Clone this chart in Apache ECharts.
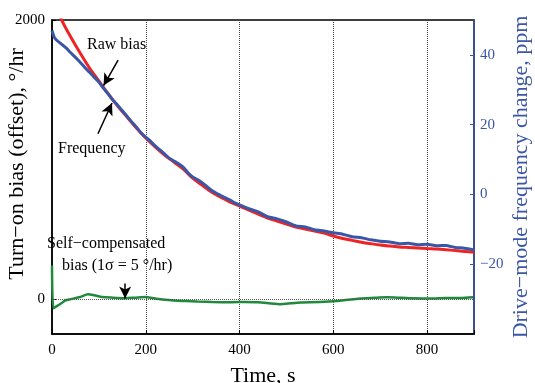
<!DOCTYPE html>
<html><head><meta charset="utf-8">
<script src="https://cdn.jsdelivr.net/npm/echarts@6/dist/echarts.min.js"></script>
<style>html,body{margin:0;padding:0;background:#fff}#c{width:535px;height:383px}</style>
</head><body><div id="c"></div>
<script>
const redTime = [0,10,20,40,60,80,100,120,140,160,180,200,220,240,260,280,300,320,340,360,380,400,420,440,460,480,500,520,540,560,580,600,620,640,660,680,700,720,740,760,780,800,820,840,860,880,900];
const rawBias = [2360,2110,2005,1878,1763,1656,1563,1470,1384,1305,1226,1154,1090,1032,982,932,867,817,767,731,695,667,638,609,581,559,538,516,502,487,473,452,434,421,408,397,387,380,374,370,366,362,359,354,348,342,336];

const blueTime = [0,5,10,20,30,40,50,60,70,80,90,100,110,120,130,140,150,160,170,180,190,200,210,220,230,240,250,260,270,280,290,300,310,320,330,340,350,360,370,380,390,400,420,440,460,480,500,520,540,560,580,600,620,640,660,680,700,720,740,760,780,800,820,840,860,880,900];
const frequency = [47.0,45.0,44.2,43.1,42.0,40.6,39.3,37.9,36.4,35.0,33.6,32.2,30.4,28.8,27.0,25.6,24.0,22.4,20.8,19.3,17.6,16.4,15.3,13.9,12.8,11.6,10.4,9.6,8.8,7.8,6.2,5.0,4.3,3.4,2.3,1.2,0.4,-0.3,-1.0,-1.6,-2.4,-3.0,-4.1,-5.0,-6.4,-7.0,-7.9,-9.0,-9.3,-10.1,-10.5,-11.0,-11.4,-12.1,-12.4,-13.0,-13.4,-13.6,-14.1,-14.0,-14.4,-14.3,-14.7,-14.6,-15.2,-15.4,-15.9];

const greenTime = [0,3,10,20,28,40,60,77,90,107,130,156,175,198,220,241,260,284,310,341,384,410,439,486,510,529,571,608,630,657,690,714,740,763,812,840,870,898];
const selfComp = [240,-65,-50,-30,-10,0,15,35,28,15,10,7,10,15,5,-5,-10,-14,-18,-21,-22,-20,-22,-36,-30,-24,-21,-14,-5,5,10,14,10,7,5,8,8,14];

const xTicks = [0,200,400,600,800];
const leftTicks = [0,2000];
const rightTicks = [-20,0,20,40];

const FONT = 'Liberation Serif';
const BLUE = '#3b56a6';
const zip = (a,b)=>a.map((v,i)=>[v,b[i]]);
const minus = v => v<0 ? '\u2212'+Math.abs(v) : String(v);

const chart = echarts.init(document.getElementById('c'));
chart.setOption({
  animation:false,
  grid:{left:52,right:61,top:20,bottom:49,containLabel:false,outerBoundsMode:'none',show:true,borderColor:'#000',borderWidth:1.5,backgroundColor:'transparent'},
  xAxis:{type:'value',min:0,max:900,interval:200,
    axisLine:{show:true,onZero:false,lineStyle:{color:'#000',width:1.5}},
    axisTick:{show:true,inside:true,length:4,lineStyle:{color:'#000'}},
    axisLabel:{color:'#000',fontFamily:FONT,fontSize:15,margin:9,customValues:xTicks,formatter:v=>String(v)},
    splitLine:{show:true,lineStyle:{color:'#444',type:'dotted',width:1}},
    name:'Time, s',nameLocation:'middle',nameGap:31,nameMoveOverlap:false,
    nameTextStyle:{color:'#000',fontFamily:FONT,fontSize:22}},
  yAxis:[
    {type:'value',min:-250,max:2000,position:'left',
      axisLine:{show:true,onZero:false,lineStyle:{color:'#000',width:1.5}},
      axisTick:{show:true,inside:true,length:4,customValues:leftTicks,lineStyle:{color:'#000'}},
      axisLabel:{color:'#000',fontFamily:FONT,fontSize:15,margin:7,customValues:leftTicks,formatter:v=>String(v)},
      splitLine:{show:false},
      name:'Turn\u2212on bias (offset), \u00b0/hr',nameLocation:'middle',nameGap:24,nameRotate:90,nameMoveOverlap:false,
      nameTextStyle:{color:'#000',fontFamily:FONT,fontSize:22,padding:[0,0,0,26]}},
    {type:'value',min:-40,max:50,interval:20,position:'right',
      axisLine:{show:true,onZero:false,lineStyle:{color:BLUE,width:1.5}},
      axisTick:{show:true,inside:true,length:4,customValues:rightTicks,lineStyle:{color:BLUE}},
      axisLabel:{color:BLUE,fontFamily:FONT,fontSize:15,margin:6,customValues:rightTicks,formatter:minus},
      splitLine:{show:false},
      name:'Drive\u2212mode frequency change, ppm',nameLocation:'middle',nameGap:36,nameRotate:90,nameMoveOverlap:false,
      nameTextStyle:{color:BLUE,fontFamily:FONT,fontSize:22}}
  ],
  series:[
    {type:'line',yAxisIndex:0,data:zip(redTime,rawBias),symbol:'none',smooth:0.3,z:2,
      lineStyle:{color:'#ee2424',width:3},
      markLine:{silent:true,symbol:['none','arrow'],symbolSize:[9,12],label:{show:false},
        lineStyle:{color:'#000',width:1.5,type:'solid'},
        data:[
          [{coord:[141,1713]},{coord:[110,1530]}],
          [{coord:[98,1185]},{coord:[128,1405]}],
          [{coord:[156,112]},{coord:[156,5]}]
        ]}},
    {type:'line',yAxisIndex:1,data:zip(blueTime,frequency),symbol:'none',smooth:0.2,z:3,
      lineStyle:{color:BLUE,width:3}},
    {type:'line',yAxisIndex:0,data:zip(greenTime,selfComp),symbol:'none',smooth:0.3,z:4,
      lineStyle:{color:'#1f8a3c',width:2.5},
      markLine:{silent:true,symbol:'none',label:{show:false},
        lineStyle:{color:'#555',type:'dotted',width:1},data:[{yAxis:0}]}}
  ],
  graphic:[
    {type:'text',left:87,top:37,style:{text:'Raw bias',font:'16px "Liberation Serif"',fill:'#000'}},
    {type:'text',left:58,top:141,style:{text:'Frequency',font:'16px "Liberation Serif"',fill:'#000'}},
    {type:'text',left:47,top:236,style:{text:'Self\u2212compensated',font:'16px "Liberation Serif"',fill:'#000'}},
    {type:'text',left:62,top:258,style:{text:'bias (1\u03c3 = 5 \u00b0/hr)',font:'16px "Liberation Serif"',fill:'#000'}}
  ]
});
</script></body></html>
